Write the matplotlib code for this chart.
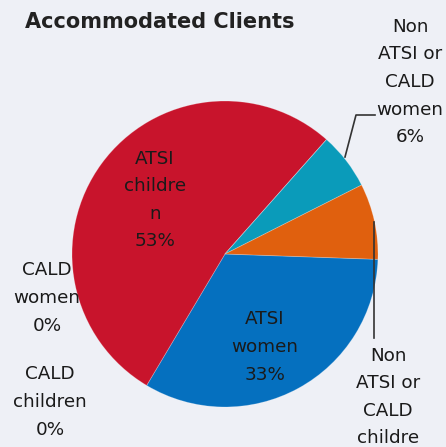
import numpy as np
import matplotlib.pyplot as plt
from matplotlib.lines import Line2D

# data
categories = ['ATSI women', 'ATSI children', 'CALD women', 'CALD children',
              'Non ATSI or CALD women', 'Non ATSI or CALD children']
shares = [33, 53, 0, 0, 6, 8]
colors = ['#0570BF', '#C8142C', '#2E9E4A', '#7A5FA8', '#0A9BBA', '#E0600E']
title = 'Accommodated Clients'

W, H = 446, 447
bg = '#EEF0F6'

fig = plt.figure(figsize=(W / 100, H / 100), dpi=100, facecolor=bg)

def fx(x):
    return x / W

def fy(y):
    return 1 - y / H

# pie centred at (225, 254) px, radius 153 px
cx, cy, r = 225, 254, 153
ax = fig.add_axes([fx(cx - r), fy(cy + r), 2 * r / W, 2 * r / H])
ax.set_facecolor(bg)
ax.pie(shares, colors=colors, startangle=-2, counterclock=False,
       wedgeprops=dict(linewidth=0.6, edgecolor=(1, 1, 1, 0.25)))
ax.set_xlim(-1, 1)
ax.set_ylim(-1, 1)
ax.set_aspect('equal')
ax.axis('off')

fig.text(fx(25), fy(22), title, fontsize=15, fontweight='bold',
         color='#222222', ha='left', va='center')

lab = dict(fontsize=13.2, color='#1a1a1a', ha='center', va='center',
           linespacing=1.68)

# labels (wrapped as in the original chart)
fig.text(fx(155), fy(200), 'ATSI\nchildre\nn\n%d%%' % shares[1], **lab)
fig.text(fx(265), fy(347), 'ATSI\nwomen\n%d%%' % shares[0], **lab)
fig.text(fx(47), fy(298), 'CALD\nwomen\n%d%%' % shares[2], **lab)
fig.text(fx(50), fy(402), 'CALD\nchildren\n%d%%' % shares[3], **lab)
fig.text(fx(410), fy(82), 'Non\nATSI or\nCALD\nwomen\n%d%%' % shares[4], **lab)
fig.text(fx(388), fy(397), 'Non\nATSI or\nCALD\nchildre', **lab)

# leader lines
fig.add_artist(Line2D([fx(345), fx(356), fx(375)], [fy(157), fy(115), fy(115)],
                      color='#333333', linewidth=1.2))
fig.add_artist(Line2D([fx(374), fx(374)], [fy(222), fy(338)],
                      color='#333333', linewidth=1.2))

fig.savefig('out.png', dpi=100, facecolor=bg)
